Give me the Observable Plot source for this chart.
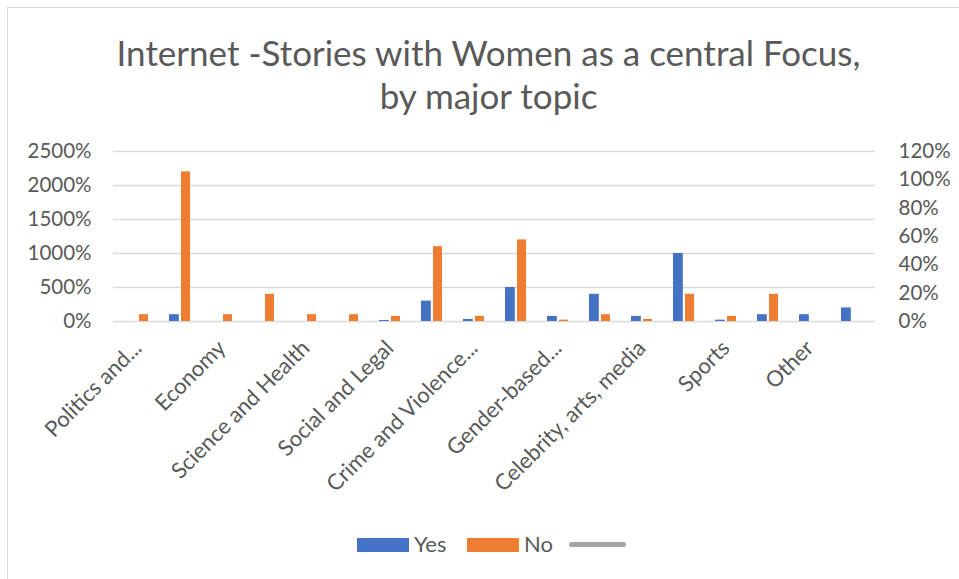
<!DOCTYPE html>
<html><head><meta charset="utf-8">
<script src="https://cdn.jsdelivr.net/npm/d3@7"></script>
<script src="https://cdn.jsdelivr.net/npm/@observablehq/plot@0.6"></script>
<style>
body{margin:0;background:#fff;font-family:Lato, sans-serif;}
#wrap{position:relative;width:959px;height:579px;overflow:hidden;background:#fff;}
#border{position:absolute;left:7px;top:7px;width:1000px;height:1000px;border-left:1.5px solid #d9d9d9;border-top:1.5px solid #d9d9d9;}
#title{position:absolute;left:0;top:31px;width:977px;text-align:center;font-size:35px;line-height:43px;color:#595959;white-space:nowrap;}
#chart{position:absolute;left:0;top:130px;}
.lg{position:absolute;}
.lgt{position:absolute;font-size:22px;color:#595959;line-height:24px;}
.xlab text{font-size:22px;}
</style>
</head><body>
<div id="wrap">
  <div id="border"></div>
  <div id="title">Internet -Stories with Women as a central Focus,<br>by major topic</div>
  <div id="chart"></div>
  <div id="legend"></div>
</div>
<script>
// categories (18 rows; Excel shows every second label)
const topics = ["Politics and...", "", "Economy", "", "Science and Health", "", "Social and Legal", "",
  "Crime and Violence...", "", "Gender-based...", "", "Celebrity, arts, media", "", "Sports", "", "Other", ""];
// series values (in %)
const yesValues = [null, 100, null, null, null, null, 15, 300, 30, 500, 75, 400, 75, 1000, 20, 100, 100, 200];
const noValues  = [100, 2200, 100, 400, 100, 100, 75, 1100, 75, 1200, 20, 100, 30, 400, 75, 400, null, null];
const seriesNames = ["Yes", "No", ""];
const seriesColors = ["#4472c4", "#ed7d31", "#a5a5a5"];
// tick labels
const leftTicks = [0, 500, 1000, 1500, 2000, 2500];
const rightTicks = [0, 20, 40, 60, 80, 100, 120];
const leftMax = 2500, rightMax = 120;

const yesData = yesValues.map((v, i) => ({i, v})).filter(d => d.v != null);
const noData = noValues.map((v, i) => ({i, v})).filter(d => d.v != null);

const chart = Plot.plot({
  width: 959,
  height: 400,
  marginTop: 21,
  marginBottom: 209,
  marginLeft: 113,
  marginRight: 84,
  style: {fontFamily: "Lato, sans-serif", fontSize: "20.5px", color: "#595959", background: "transparent", overflow: "visible"},
  x: {type: "band", domain: d3.range(topics.length), paddingInner: 0.5, paddingOuter: 0.25, axis: null},
  y: {domain: [0, leftMax], axis: null},
  marks: [
    Plot.gridY({ticks: leftTicks, stroke: "#d9d9d9", strokeOpacity: 1, strokeWidth: 1.3}),
    Plot.axisY({ticks: leftTicks, anchor: "left", tickSize: 0, tickPadding: 22, label: null, tickFormat: d => d + "%"}),
    Plot.axisY({ticks: rightTicks.map(v => v * leftMax / rightMax), anchor: "right", tickSize: 0, tickPadding: 23, label: null,
      tickFormat: d => Math.round(d * rightMax / leftMax) + "%"}),
    Plot.axisX({ticks: d3.range(0, topics.length, 2), anchor: "bottom", tickRotate: -45, tickSize: 0, tickPadding: 23, label: null,
      className: "xlab", tickFormat: i => topics[i]}),
    Plot.barY(yesData, {x: "i", y: "v", fill: seriesColors[0], insetRight: 11.2}),
    Plot.barY(noData, {x: "i", y: "v", fill: seriesColors[1], insetLeft: 12})
  ]
});
document.getElementById("chart").appendChild(chart);

// legend
const lg = document.getElementById("legend");
function add(cls, style, text) {
  const d = document.createElement("div");
  d.className = cls;
  Object.assign(d.style, style);
  if (text) d.textContent = text;
  lg.appendChild(d);
}
add("lg", {left: "357px", top: "538px", width: "52px", height: "13.5px", background: seriesColors[0]});
add("lgt", {left: "414px", top: "531.5px"}, seriesNames[0]);
add("lg", {left: "467px", top: "538px", width: "52px", height: "13.5px", background: seriesColors[1]});
add("lgt", {left: "524px", top: "531.5px"}, seriesNames[1]);
add("lg", {left: "569px", top: "541.5px", width: "57px", height: "5.5px", borderRadius: "3px", background: seriesColors[2]});
</script>
</body></html>
